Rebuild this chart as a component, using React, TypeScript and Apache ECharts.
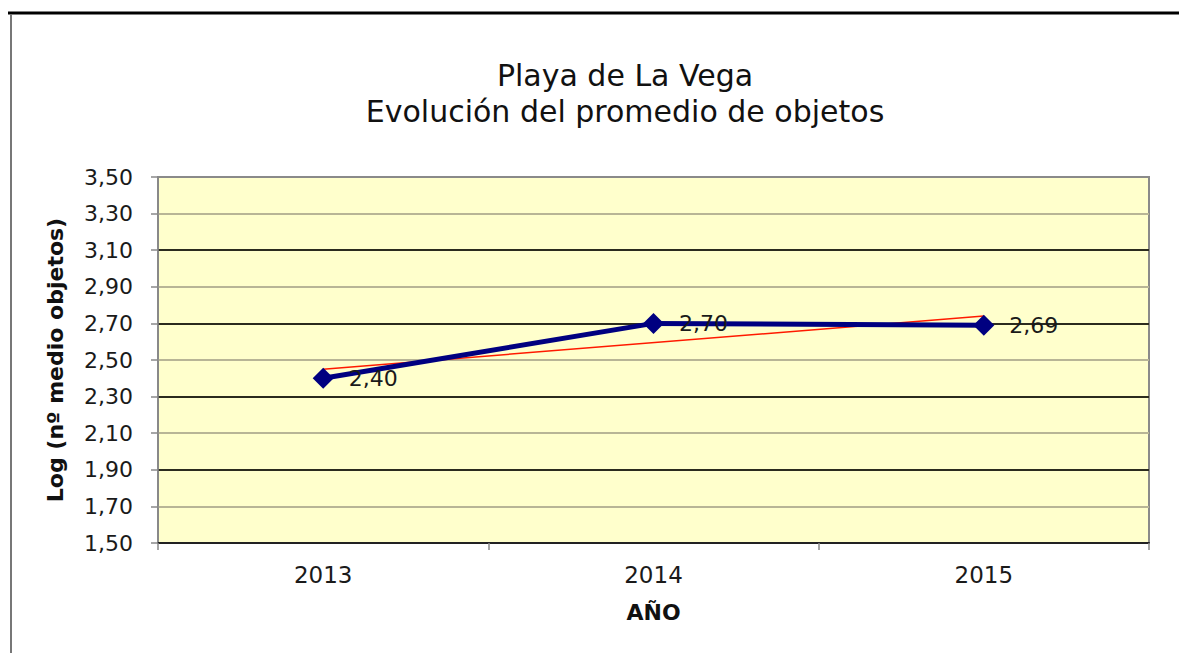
import React, { useEffect, useRef } from "react";
import * as echarts from "echarts";

const years = ["2013", "2014", "2015"];
const promedio = [2.4, 2.7, 2.69];
const tendencia = [2.45, null, 2.74];
const yMin = 1.5;
const yMax = 3.5;
const yStep = 0.2;
const titleLines = ["Playa de La Vega", "Evolución del promedio de objetos"];
const yName = "Log (nº medio objetos)";
const xName = "AÑO";

const FONT = "'DejaVu Sans', Verdana, sans-serif";
const fmt = (v: number) => v.toFixed(2).replace(".", ",");

export default function App() {
  const ref = useRef<HTMLDivElement>(null);
  useEffect(() => {
    if (!ref.current) return;
    const chart = echarts.init(ref.current, undefined, { renderer: "svg" });
    chart.setOption({
      animation: false,
      backgroundColor: "#ffffff",
      title: {
        text: titleLines.join("\n"),
        left: 620,
        top: 52,
        textAlign: "center",
        textStyle: {
          fontFamily: FONT,
          fontSize: 30,
          fontWeight: "normal",
          color: "#111",
          lineHeight: 36,
        },
      },
      graphic: [
        {
          type: "line",
          shape: { x1: 8, y1: 13, x2: 1179, y2: 13 },
          style: { stroke: "#000", lineWidth: 3 },
        },
        {
          type: "line",
          shape: { x1: 11, y1: 14, x2: 11, y2: 653 },
          style: { stroke: "#777", lineWidth: 2 },
        },
      ],
      grid: {
        left: 158,
        right: 30,
        top: 177,
        bottom: 110,
        show: true,
        backgroundColor: "#FFFFCC",
        borderColor: "#8a8a8a",
        borderWidth: 2,
      },
      xAxis: {
        type: "category",
        data: years,
        boundaryGap: true,
        name: xName,
        nameLocation: "middle",
        nameGap: 58,
        nameTextStyle: { fontFamily: FONT, fontSize: 22, fontWeight: "bold", color: "#111" },
        axisLine: { lineStyle: { color: "#222", width: 2 } },
        axisTick: { show: true, length: 7, alignWithLabel: false, lineStyle: { color: "#888", width: 1.5 } },
        axisLabel: { fontFamily: FONT, fontSize: 23, color: "#1a1a1a", margin: 20 },
        splitLine: { show: false },
      },
      yAxis: {
        type: "value",
        min: yMin,
        max: yMax,
        interval: yStep,
        name: yName,
        nameLocation: "middle",
        nameGap: 92,
        nameTextStyle: { fontFamily: FONT, fontSize: 22, fontWeight: "bold", color: "#111" },
        axisLine: { show: true, lineStyle: { color: "#888", width: 1.5 } },
        axisTick: { show: true, length: 7, lineStyle: { color: "#888", width: 1.5 } },
        axisLabel: { fontFamily: FONT, fontSize: 22, color: "#1a1a1a", margin: 25, formatter: fmt },
        splitLine: {
          show: true,
          showMaxLine: false,
          lineStyle: { color: ["#2b2b1e", "#b8b596"], width: 2 },
        },
      },
      series: [
        {
          type: "line",
          data: tendencia,
          connectNulls: true,
          showSymbol: false,
          symbol: "none",
          lineStyle: { color: "#ff1a00", width: 1.5 },
          z: 2,
          silent: true,
        },
        {
          type: "line",
          data: promedio,
          symbol: "diamond",
          symbolSize: 21,
          lineStyle: { color: "#000080", width: 5 },
          itemStyle: { color: "#000080" },
          z: 3,
          label: {
            show: true,
            position: "right",
            distance: 15,
            fontFamily: FONT,
            fontSize: 22,
            color: "#1a1a1a",
            formatter: (p: any) => fmt(p.value),
          },
        },
      ],
    });
    return () => chart.dispose();
  }, []);
  return (
    <div
      ref={ref}
      style={{ position: "absolute", left: 0, top: 0, width: 1179, height: 653 }}
    />
  );
}
